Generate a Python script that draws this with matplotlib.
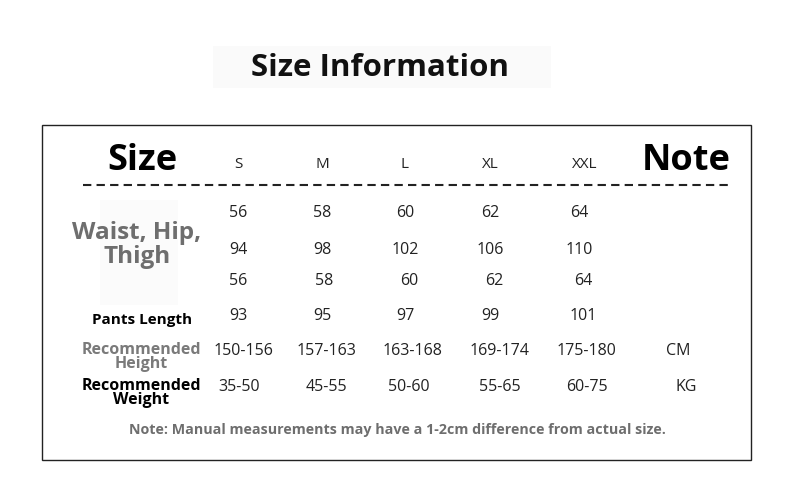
import matplotlib
matplotlib.use("Agg")
import matplotlib.pyplot as plt
from matplotlib.patches import Rectangle

plt.rcParams['font.family'] = ['Open Sans', 'DejaVu Sans']

title = "Size Information"
sizes = ["S", "M", "L", "XL", "XXL"]
waist = ["56", "58", "60", "62", "64"]
hip = ["94", "98", "102", "106", "110"]
thigh = ["56", "58", "60", "62", "64"]
pants_length = ["93", "95", "97", "99", "101"]
rec_height = ["150-156", "157-163", "163-168", "169-174", "175-180"]
rec_weight = ["35-50", "45-55", "50-60", "55-65", "60-75"]
note_text = "Note: Manual measurements may have a 1-2cm difference from actual size."

fig = plt.figure(figsize=(8, 5), dpi=100)
ax = fig.add_axes([0, 0, 1, 1])
ax.set_xlim(0, 800); ax.set_ylim(500, 0); ax.axis('off')

ax.add_patch(Rectangle((213, 46), 338, 42, facecolor='#fafafa', edgecolor='none'))
ax.text(380, 68, title, ha='center', va='center', fontsize=22.5, fontweight='bold', color='#111')
ax.add_patch(Rectangle((42, 125), 709, 335, facecolor='none', edgecolor='#222', lw=1))

ax.text(142, 161, "Size", ha='center', va='center', fontsize=26, fontweight='bold', color='black')
ax.text(686, 161, "Note", ha='center', va='center', fontsize=26, fontweight='bold', color='black')
ax.plot([83, 728], [185, 185], ls=(0, (4, 2.5)), color='#222', lw=1.5)

col_x = [238, 322, 405, 490, 585]
for x, s in zip(col_x, sizes):
    ax.text(x, 164, s, ha='center', va='center', fontsize=11, color='#222')

rows = [
    (waist, 213, [238, 322, 405, 490, 579]),
    (hip, 250, [238, 322, 405, 490, 579]),
    (thigh, 281, [238, 324, 409, 494, 583]),
    (pants_length, 316, [238, 322, 405, 490, 583]),
    (rec_height, 351, [243, 326, 412, 499, 586]),
    (rec_weight, 387, [239, 326, 409, 500, 587]),
]
for vals, y, xs in rows:
    for x, v in zip(xs, vals):
        ax.text(x, y, v, ha='center', va='center', fontsize=11.5, color='#222')

ax.add_patch(Rectangle((100, 200), 78, 105, facecolor='#fbfbfb', edgecolor='none'))
ax.text(137, 245, "Waist, Hip,\nThigh", ha='center', va='center', fontsize=17.5, fontweight='bold',
        color='#6e6e6e', linespacing=1.0)
ax.text(142, 320, "Pants Length", ha='center', va='center', fontsize=11, fontweight='bold', color='black')
ax.text(141, 357, "Recommended\nHeight", ha='center', va='center', fontsize=11.5, fontweight='bold',
        color='#7a7a7a', linespacing=0.9)
ax.text(141, 393, "Recommended\nWeight", ha='center', va='center', fontsize=11.5, fontweight='bold',
        color='black', linespacing=0.9)
ax.text(678, 351, "CM", ha='center', va='center', fontsize=11.5, color='#222')
ax.text(686, 387, "KG", ha='center', va='center', fontsize=11.5, color='#222')
ax.text(397, 430, note_text, ha='center', va='center', fontsize=10.3, fontweight='bold', color='#6e6e6e')

fig.savefig("out.png", dpi=100)
